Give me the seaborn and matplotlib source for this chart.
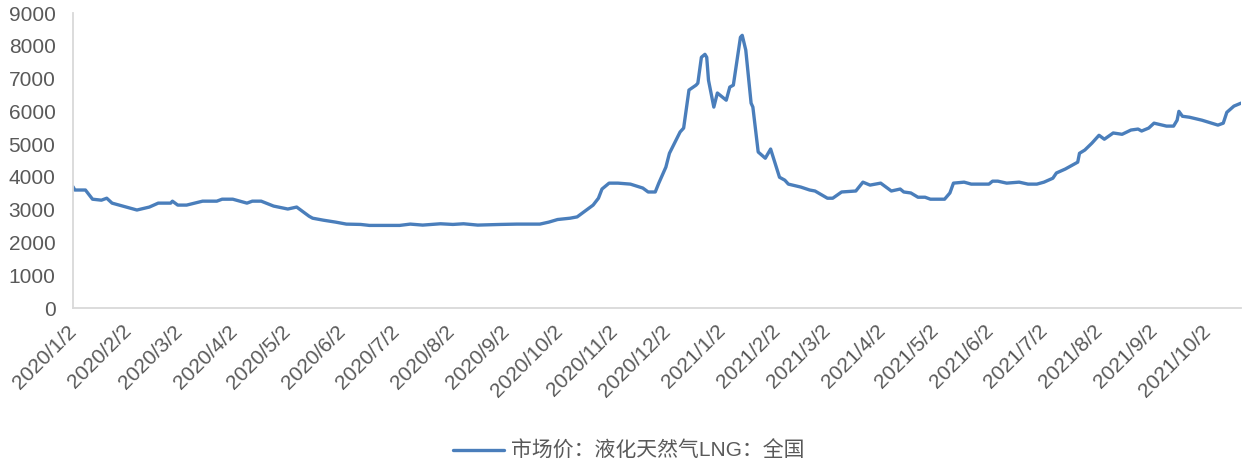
import matplotlib
matplotlib.use("Agg")
import matplotlib.pyplot as plt
import seaborn as sns
import pandas as pd

# LNG national market price (yuan/ton)
dates = [
    "2020-01-02", "2020-01-03", "2020-01-09", "2020-01-13", "2020-01-18", "2020-01-21",
    "2020-01-24", "2020-02-07", "2020-02-14", "2020-02-19", "2020-02-26", "2020-02-27",
    "2020-03-01", "2020-03-06", "2020-03-15", "2020-03-23", "2020-03-26", "2020-04-01",
    "2020-04-09", "2020-04-12", "2020-04-17", "2020-04-24", "2020-05-02", "2020-05-07",
    "2020-05-14", "2020-05-16", "2020-05-22", "2020-05-29", "2020-06-04", "2020-06-12",
    "2020-06-17", "2020-07-04", "2020-07-10", "2020-07-17", "2020-07-27", "2020-08-03",
    "2020-08-09", "2020-08-17", "2020-08-30", "2020-09-08", "2020-09-21", "2020-09-26",
    "2020-10-01", "2020-10-08", "2020-10-12", "2020-10-15", "2020-10-21", "2020-10-24",
    "2020-10-26", "2020-10-30", "2020-11-04", "2020-11-11", "2020-11-18", "2020-11-21",
    "2020-11-25", "2020-11-27", "2020-12-01", "2020-12-03", "2020-12-09", "2020-12-11",
    "2020-12-14", "2020-12-18", "2020-12-19", "2020-12-21", "2020-12-23", "2020-12-24",
    "2020-12-25", "2020-12-28", "2020-12-30", "2021-01-04", "2021-01-06", "2021-01-08",
    "2021-01-12", "2021-01-13", "2021-01-15", "2021-01-18", "2021-01-19", "2021-01-22",
    "2021-01-26", "2021-01-29", "2021-02-03", "2021-02-06", "2021-02-08", "2021-02-15",
    "2021-02-20", "2021-02-23", "2021-03-02", "2021-03-05", "2021-03-10", "2021-03-18",
    "2021-03-22", "2021-03-26", "2021-04-01", "2021-04-07", "2021-04-12", "2021-04-14",
    "2021-04-18", "2021-04-22", "2021-04-26", "2021-04-29", "2021-05-07", "2021-05-10",
    "2021-05-12", "2021-05-18", "2021-05-22", "2021-06-01", "2021-06-03", "2021-06-06",
    "2021-06-11", "2021-06-18", "2021-06-23", "2021-06-28", "2021-07-02", "2021-07-07",
    "2021-07-09", "2021-07-14", "2021-07-17", "2021-07-21", "2021-07-22", "2021-07-25",
    "2021-07-29", "2021-08-02", "2021-08-05", "2021-08-10", "2021-08-15", "2021-08-20",
    "2021-08-24", "2021-08-26", "2021-08-30", "2021-09-02", "2021-09-09", "2021-09-13",
    "2021-09-15", "2021-09-16", "2021-09-18", "2021-09-22", "2021-09-29", "2021-10-08",
    "2021-10-11", "2021-10-13", "2021-10-17", "2021-10-21",
]
prices = [
    3700, 3600, 3600, 3320, 3290, 3350,
    3200, 2990, 3080, 3200, 3200, 3260,
    3140, 3140, 3260, 3260, 3320, 3320,
    3200, 3260, 3260, 3110, 3020, 3080,
    2800, 2740, 2680, 2620, 2560, 2550,
    2520, 2520, 2560, 2530, 2570, 2550,
    2570, 2530, 2550, 2560, 2560, 2620,
    2700, 2740, 2780, 2900, 3140, 3350,
    3630, 3810, 3810, 3780, 3660, 3540,
    3540, 3810, 4300, 4720, 5370, 5490,
    6650, 6800, 6860, 7650, 7740, 7650,
    6950, 6130, 6560, 6340, 6740, 6800,
    8260, 8320, 7870, 6250, 6130, 4760,
    4570, 4850, 3990, 3900, 3780, 3690,
    3600, 3570, 3350, 3350, 3540, 3570,
    3840, 3750, 3810, 3570, 3630, 3540,
    3510, 3380, 3380, 3320, 3320, 3510,
    3810, 3840, 3780, 3780, 3870, 3870,
    3810, 3840, 3780, 3780, 3840, 3960,
    4120, 4240, 4330, 4450, 4720, 4820,
    5030, 5270, 5150, 5340, 5300, 5430,
    5460, 5400, 5490, 5640, 5550, 5550,
    5730, 6000, 5850, 5820, 5730, 5580,
    5640, 5970, 6160, 6250,
]
series_name = "市场价：液化天然气LNG：全国"
y_ticks = list(range(0, 9001, 1000))
tick_months = pd.date_range("2020-01-02", "2021-10-02", freq=pd.DateOffset(months=1))

df = pd.DataFrame({"date": pd.to_datetime(dates), "price": prices, "series": series_name})

sns.set_style("white")
plt.rcParams["font.family"] = ["Liberation Sans", "Noto Sans CJK SC", "DejaVu Sans"]

text_color = "#595959"
axis_color = "#D9D9D9"
line_color = "#4A7EBB"

fig = plt.figure(figsize=(12.46, 4.65), dpi=100)
ax = fig.add_axes([0.0586, 0.3376, 0.9374, 0.6344])

sns.lineplot(data=df, x="date", y="price", hue="series", palette=[line_color],
             linewidth=2.4, ax=ax, legend=True)

ax.set_xlim(df["date"].min(), df["date"].max())
ax.set_ylim(0, 9000)
ax.set_yticks(y_ticks)
ax.set_yticklabels([str(v) for v in y_ticks])
ax.set_xticks(tick_months)
ax.set_xticklabels([f"{d.year}/{d.month}/{d.day}" for d in tick_months],
                   rotation=45, ha="right", va="center", rotation_mode="anchor")
ax.set_xlabel("")
ax.set_ylabel("")

for side in ["top", "right"]:
    ax.spines[side].set_visible(False)
for side in ["left", "bottom"]:
    ax.spines[side].set_color(axis_color)
    ax.spines[side].set_linewidth(1.3)

ax.tick_params(axis="both", colors=axis_color, labelcolor=text_color,
               labelsize=15, length=3.6, width=1.3, direction="out")
ax.tick_params(axis="x", pad=11)
ax.tick_params(axis="y", pad=9)

handles, labels = ax.get_legend_handles_labels()
ax.legend_.remove()
fig.legend(handles, labels, loc="center", bbox_to_anchor=(0.5044, 0.03),
           frameon=False, fontsize=15, labelcolor=text_color,
           handlelength=2.45, handletextpad=0.34)

fig.savefig("out.png", dpi=100)
